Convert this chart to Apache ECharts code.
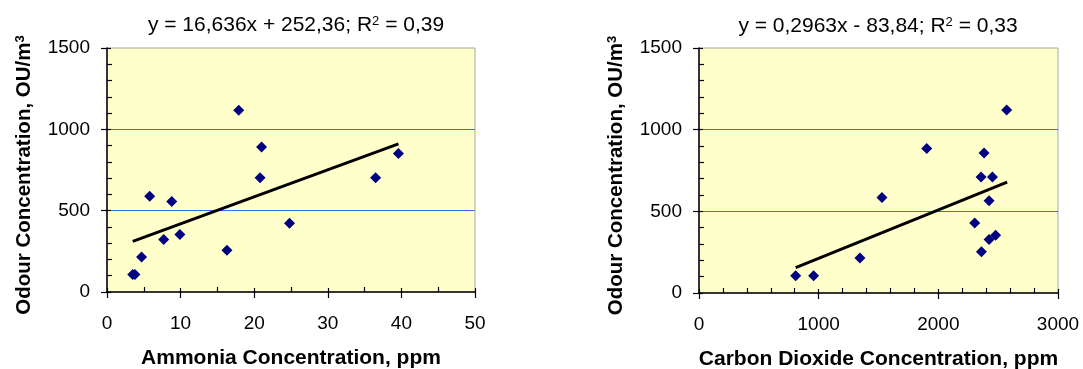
<!DOCTYPE html>
<html><head><meta charset="utf-8">
<script src="https://cdn.jsdelivr.net/npm/echarts@6/dist/echarts.min.js"></script>
<style>html,body{margin:0;padding:0;background:#fff}#c{width:1083px;height:369px}</style>
</head><body><div id="c"></div>
<script>
// ---- data ----
const ammoniaX = [3.5, 3.8, 4.7, 5.8, 7.7, 8.8, 9.9, 16.3, 17.9, 20.8, 21.0, 24.8, 36.5, 39.6];
const ammoniaY = [107, 107, 215, 588, 322, 557, 353, 256, 1117, 703, 891, 422, 703, 851];
const ammoniaTrendX = [3.5, 39.6];
const ammoniaTrendY = [311, 911];

const co2X = [808, 958, 1345, 1529, 1903, 2304, 2357, 2360, 2382, 2424, 2424, 2452, 2479, 2571];
const co2Y = [106, 106, 214, 585, 885, 429, 710, 253, 857, 565, 328, 710, 353, 1120];
const co2TrendX = [808, 2575];
const co2TrendY = [155, 679];

const leftTitle = 'y = 16,636x + 252,36; R{sup|2} = 0,39';
const rightTitle = 'y = 0,2963x - 83,84; R{sup|2} = 0,33';
const leftXName = 'Ammonia Concentration, ppm';
const rightXName = 'Carbon Dioxide Concentration, ppm';
const yName = 'Odour Concentration, OU/m{sup|3}';
const yTicks = { min: 0, max: 1500, interval: 500, minor: 5 };
const leftXTicks = { min: 0, max: 50, interval: 10, minor: 2 };
const rightXTicks = { min: 0, max: 3000, interval: 1000, minor: 5 };

// ---- chart ----
const FONT = '"Liberation Sans", Arial, sans-serif';
const pairs = (xs, ys) => xs.map((x, i) => [x, ys[i]]);
const chart = echarts.init(document.getElementById('c'));

const grids = [
  { left: 107, top: 48, width: 368, height: 244 },
  { left: 699, top: 48, width: 359, height: 245 }
];

function primaryAxis(g, t, pos, isX, name) {
  return {
    gridIndex: g, type: 'value', position: pos,
    min: t.min, max: t.max, interval: t.interval,
    axisLine: { show: true, onZero: false, lineStyle: { color: '#000', width: 1.5 } },
    axisTick: { show: true, inside: false, length: 6, lineStyle: { color: '#000', width: 1.2 } },
    minorTick: { show: false },
    splitLine: isX ? { show: false } : { show: true, showMinLine: false, showMaxLine: false, lineStyle: { color: '#3a6cf4', width: 1 } },
    axisLabel: { fontFamily: FONT, fontSize: 19, color: '#000', margin: isX ? 22 : 17, formatter: v => String(v) },
    name: name,
    nameLocation: 'middle',
    nameGap: isX ? 56 : 72,
    nameTextStyle: isX ? {
      fontFamily: FONT, fontSize: 21, fontWeight: 'bold', color: '#000'
    } : {
      fontFamily: FONT, fontSize: 20.5, fontWeight: 'bold', color: '#000',
      padding: [0, 10, 0, 0],
      rich: { sup: { fontFamily: FONT, fontSize: 13, fontWeight: 'bold', color: '#000', verticalAlign: 'top' } }
    }
  };
}
function minorAxis(g, t, pos) {
  return {
    gridIndex: g, type: 'value', position: pos,
    min: t.min, max: t.max, interval: t.interval,
    axisLine: { show: false, onZero: false },
    axisTick: { show: true, inside: true, length: 4, lineStyle: { color: '#000', width: 1.2 } },
    minorTick: { show: true, splitNumber: t.minor, length: 5, lineStyle: { color: '#000', width: 1.2 } },
    splitLine: { show: false },
    axisLabel: { show: false }
  };
}

const titleStyle = {
  fontFamily: FONT, fontSize: 21, fontWeight: 'normal', color: '#000',
  rich: { sup: { fontFamily: FONT, fontSize: 13, color: '#000', verticalAlign: 'top' } }
};

chart.setOption({
  animation: false,
  backgroundColor: '#fff',
  title: [
    { text: leftTitle, left: 291, top: 10, textAlign: 'center', textStyle: titleStyle },
    { text: rightTitle, left: 873, top: 11, textAlign: 'center', textStyle: titleStyle }
  ],
  grid: grids.map(g => Object.assign({
    show: true, backgroundColor: '#ffffcc', borderColor: '#a8a8a8', borderWidth: 1,
    containLabel: false, outerBoundsMode: 'none'
  }, g)),
  xAxis: [
    primaryAxis(0, leftXTicks, 'bottom', true, leftXName),
    minorAxis(0, leftXTicks, 'bottom'),
    primaryAxis(1, rightXTicks, 'bottom', true, rightXName),
    minorAxis(1, rightXTicks, 'bottom')
  ],
  yAxis: [
    primaryAxis(0, yTicks, 'left', false, yName),
    minorAxis(0, yTicks, 'left'),
    primaryAxis(1, yTicks, 'left', false, yName),
    minorAxis(1, yTicks, 'left')
  ],
  series: [
    { type: 'line', xAxisIndex: 0, yAxisIndex: 0, data: pairs(ammoniaTrendX, ammoniaTrendY), symbol: 'none', lineStyle: { color: '#000', width: 3 }, z: 3 },
    { type: 'scatter', xAxisIndex: 0, yAxisIndex: 0, data: pairs(ammoniaX, ammoniaY), symbol: 'diamond', symbolSize: 11, itemStyle: { color: '#000080', opacity: 1 }, z: 4 },
    { type: 'line', xAxisIndex: 2, yAxisIndex: 2, data: pairs(co2TrendX, co2TrendY), symbol: 'none', lineStyle: { color: '#000', width: 3 }, z: 3 },
    { type: 'scatter', xAxisIndex: 2, yAxisIndex: 2, data: pairs(co2X, co2Y), symbol: 'diamond', symbolSize: 11, itemStyle: { color: '#000080', opacity: 1 }, z: 4 }
  ]
});
</script>
</body></html>
